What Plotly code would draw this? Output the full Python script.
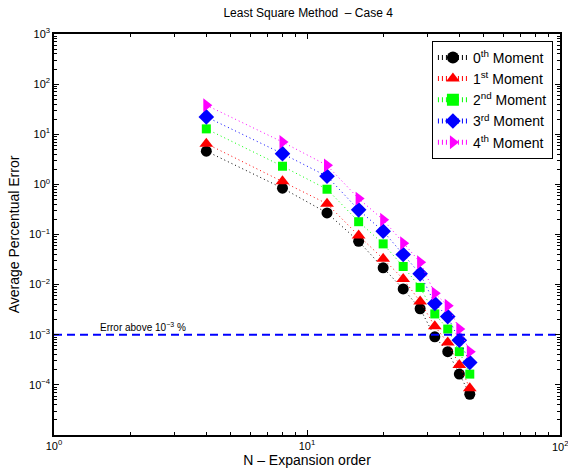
import plotly.graph_objects as go
import numpy as np

N = [4, 8, 12, 16, 20, 24, 28, 32, 36, 40, 44]
m0 = [4.6, 0.84, 0.27, 0.073, 0.0216, 0.0082, 0.0033, 0.00091, 0.00046, 0.000164, 0.000065]
m1 = [6.5, 1.16, 0.41, 0.095, 0.0327, 0.013, 0.0046, 0.00147, 0.0007, 0.00025, 0.000086]
m2 = [12.8, 2.3, 0.80, 0.18, 0.065, 0.023, 0.0088, 0.0026, 0.0013, 0.00046, 0.000164]
m3 = [22.2, 4.1, 1.45, 0.31, 0.116, 0.040, 0.0164, 0.0042, 0.0023, 0.00078, 0.00028]
m4 = [38.0, 7.0, 2.4, 0.52, 0.197, 0.067, 0.028, 0.0067, 0.0038, 0.0013, 0.00046]
names = ["0<sup>th</sup> Moment", "1<sup>st</sup> Moment", "2<sup>nd</sup> Moment",
         "3<sup>rd</sup> Moment", "4<sup>th</sup> Moment"]
series = [m0, m1, m2, m3, m4]
colors = ["#000000", "#ff0000", "#00ff00", "#0000ff", "#ff00ff"]
symbols = ["circle", "triangle-up", "square", "diamond", "triangle-right"]
sizes = [11, 12, 9, 12, 12]
error_level = 1e-3

x_ticks = [1, 10]
x_ticktext = ["10<sup>0</sup>", "10<sup>1</sup>"]
x_last_tick = 100
x_last_text = "10<sup>2</sup>"
y_ticks = [1e-4, 1e-3, 1e-2, 1e-1, 1, 10, 100, 1000]
y_ticktext = ["10<sup>−4</sup>", "10<sup>−3</sup>", "10<sup>−2</sup>", "10<sup>−1</sup>",
              "10<sup>0</sup>", "10<sup>1</sup>", "10<sup>2</sup>", "10<sup>3</sup>"]

fig = go.Figure()
for s, nm, c, sym, sz in zip(series, names, colors, symbols, sizes):
    fig.add_trace(go.Scatter(
        x=N, y=s, name=nm, mode="lines+markers",
        line=dict(color=c, width=1, dash="1px,3px"),
        marker=dict(color=c, symbol=sym, size=sz, line=dict(width=0)),
    ))

fig.add_trace(go.Scatter(
    x=[1, 100], y=[error_level, error_level], mode="lines", showlegend=False,
    line=dict(color="#0000ff", width=2, dash="8px,5px"), hoverinfo="skip",
))

fig.add_annotation(
    x=np.log10(1.49), y=np.log10(error_level), xref="x", yref="y",
    text="Error above 10<sup>−3</sup> %", showarrow=False,
    xanchor="left", yanchor="bottom", yshift=0,
    font=dict(size=10, color="black"),
)
fig.add_annotation(
    x=np.log10(x_last_tick), y=0, xref="x", yref="paper",
    text=x_last_text, showarrow=False, xanchor="center", yanchor="top", yshift=-2,
    font=dict(size=11, color="black"),
)

minor_x = [k * 10 ** d for d in range(0, 2) for k in range(2, 10)]
minor_y = [k * 10.0 ** d for d in range(-5, 3) for k in range(2, 10)]

axis_common = dict(
    type="log", showgrid=False, zeroline=False, showline=True, linecolor="black",
    linewidth=1.5, mirror="ticks", ticks="inside", ticklen=5, tickcolor="black",
    tickwidth=1, tickfont=dict(size=11, color="black"),
)

fig.update_xaxes(
    **axis_common, range=[0, 2], tickmode="array", tickvals=x_ticks, ticktext=x_ticktext,
    minor=dict(tickmode="array", tickvals=minor_x, ticks="inside", ticklen=3,
               tickcolor="black", tickwidth=1, showgrid=False),
    title=dict(text="N – Expansion order", font=dict(size=14, color="black"), standoff=4),
)
fig.update_yaxes(
    **axis_common, range=[-5, 3], tickmode="array", tickvals=y_ticks, ticktext=y_ticktext,
    minor=dict(tickmode="array", tickvals=minor_y, ticks="inside", ticklen=3,
               tickcolor="black", tickwidth=1, showgrid=False),
    title=dict(text="Average Percentual Error", font=dict(size=14, color="black"), standoff=6),
)

fig.update_layout(
    width=568, height=473,
    margin=dict(l=54, r=6, t=34, b=38),
    paper_bgcolor="white", plot_bgcolor="white",
    font=dict(family="Liberation Sans, Arial, sans-serif", color="black"),
    title=dict(text="Least Square Method  – Case 4", x=0.5425, xanchor="center",
               y=0.972, yanchor="middle", font=dict(size=12, color="black")),
    legend=dict(x=0.986, y=0.983, xanchor="right", yanchor="top",
                bordercolor="black", borderwidth=1, bgcolor="white",
                font=dict(size=14, color="black"), tracegroupgap=0,
                itemsizing="constant"),
    showlegend=True,
)

fig.write_html("out.html")
